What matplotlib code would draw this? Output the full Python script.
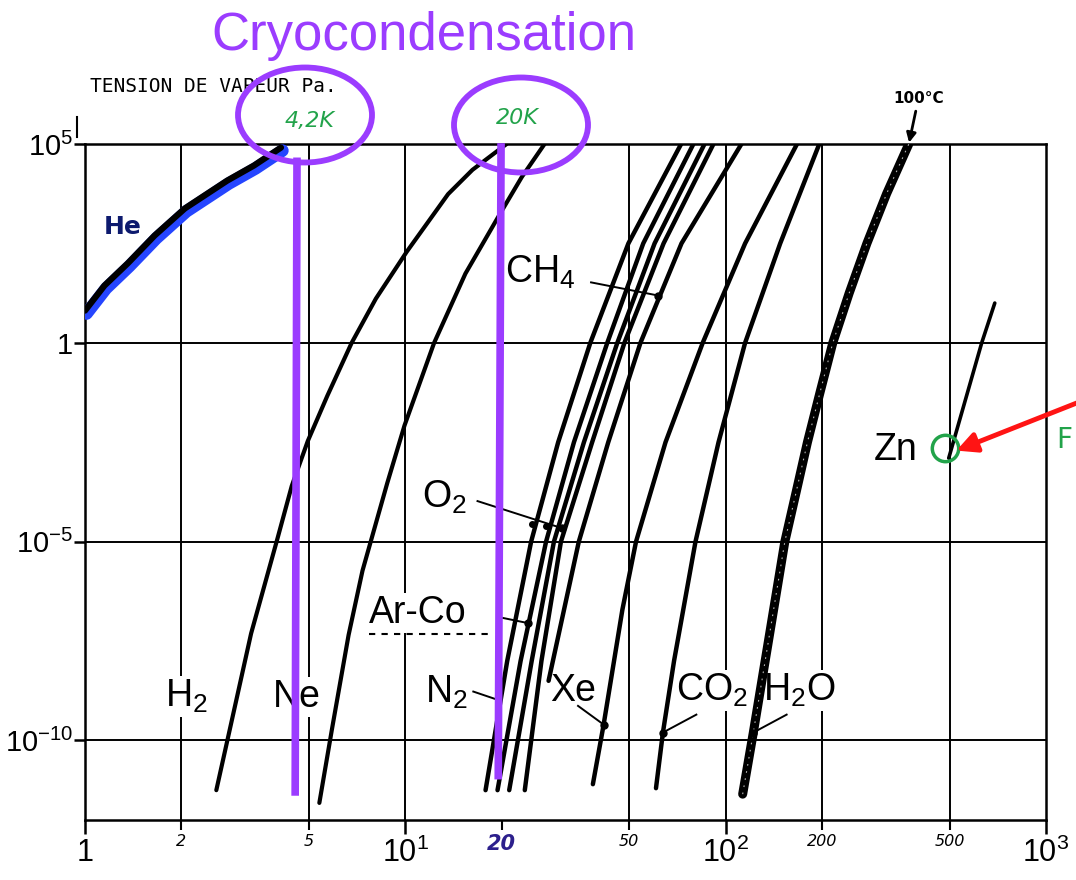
import numpy as np
import matplotlib
matplotlib.use('Agg')
import matplotlib.pyplot as plt
from matplotlib import transforms
from matplotlib.patches import Ellipse
from matplotlib.lines import Line2D

# vapour pressure curves: temperature in K, log10(P / Pa)
he_T = [1.0, 1.15, 1.36, 1.65, 2.05, 2.78, 3.37, 4.09]
he_logP = [0.81, 1.44, 2.0, 2.7, 3.38, 4.08, 4.46, 4.91]

h2_T = [2.57, 3.30, 3.98, 4.42, 4.96, 5.71, 6.8, 8.09, 10.1, 13.6, 16.2, 20.7]
h2_logP = [-11.25, -7.31, -4.95, -3.6, -2.47, -1.33, 0.0, 1.11, 2.29, 3.74, 4.35, 5.0]

ne_T = [5.39, 5.9, 6.65, 7.35, 8.78, 9.94, 12.3, 15.4, 19.7, 23.1, 27.2]
ne_logP = [-11.57, -9.72, -7.35, -5.73, -3.53, -2.08, 0.0, 1.74, 3.23, 4.17, 5.0]

# the tight bundle N2 / CO / Ar / O2 shares the same pressure readings
bundle_logP = [-11.25, -8.0, -5.0, -2.5, 0.0, 2.5, 5.0]
n2_T = [17.8, 20.8, 24.7, 30.0, 37.8, 49.7, 72.6]
co_T = [19.4, 22.9, 27.5, 33.6, 42.7, 55.3, 79.3]
ar_T = [21.1, 24.8, 29.1, 36.1, 45.9, 60.0, 85.9]
o2_T = [23.6, 26.6, 30.6, 38.3, 48.3, 64.0, 91.6]

ch4_T = [28.0, 34.8, 43.0, 54.2, 72.8, 112.0]
ch4_logP = [-8.5, -5.0, -2.5, 0.0, 2.5, 5.0]

xe_T = [38.5, 41.6, 47.6, 52.5, 64.9, 84.8, 115.0, 167.0]
xe_logP = [-11.1, -9.6, -6.71, -5.0, -2.5, 0.0, 2.5, 5.0]

co2_T = [60.6, 63.7, 69.0, 80.5, 95.0, 115.0, 148.0, 196.0]
co2_logP = [-11.2, -9.8, -8.0, -5.0, -2.5, 0.0, 2.5, 5.0]

h2o_T = [113.0, 122.0, 136.0, 153.0, 166.0, 180.0, 197.0, 216.0, 243.0, 276.0, 318.0, 373.0]
h2o_logP = [-11.35, -9.8, -7.5, -5.0, -3.75, -2.5, -1.25, 0.0, 1.25, 2.5, 3.75, 5.0]

zn_T = [497.0, 630.0, 692.0]
zn_logP = [-2.9, 0.0, 1.0]

# axis ticks
x_major = [1, 10, 100, 1000]
x_major_lbl = ['1', '10$^1$', '10$^2$', '10$^3$']
x_minor = [2, 5, 20, 50, 200, 500]
x_minor_lbl = ['2', '5', '20', '50', '200', '500']
y_major = [1e-10, 1e-5, 1, 1e5]
y_major_lbl = ['10$^{-10}$', '10$^{-5}$', '1', '10$^5$']
grid_T = [2, 5, 10, 50, 100, 200, 500]
grid_P = [1e-10, 1e-5, 1]

# curve names: text, T, log10 P of baseline-left corner
names = ['H$_2$', 'Ne', 'N$_2$', 'Xe', 'CO$_2$', 'H$_2$O', 'Ar-Co', 'O$_2$', 'CH$_4$', 'Zn']
name_T = [1.78, 3.85, 11.5, 28.3, 70.0, 131.0, 7.7, 11.3, 20.4, 290.0]
name_logP = [-9.15, -9.15, -9.05, -9.0, -9.0, -9.0, -7.05, -4.15, 1.5, -2.95]

# leader lines from the names to their curve (start T, logP, end T, logP, dot)
leaders = [
    (38.0, 1.52, 61.5, 1.19, True),      # CH4
    (16.8, -3.98, 30.8, -4.66, True),    # O2
    (20.2, -6.92, 24.2, -7.05, True),    # Ar-Co
    (16.3, -8.77, 19.3, -8.97, False),   # N2
    (34.6, -9.13, 41.6, -9.6, True),     # Xe
    (81.0, -9.35, 63.7, -9.8, True),     # CO2
    (155.0, -9.35, 122.0, -9.8, True),   # H2O
]
o2_extra_dots_T = [24.8, 27.5]
o2_extra_dots_logP = [-4.55, -4.6]

PURPLE = '#9b3cff'
GREEN = '#22a34a'

plt.rcParams['font.family'] = ['Liberation Sans', 'DejaVu Sans']
plt.rcParams['mathtext.fontset'] = 'custom'
plt.rcParams['mathtext.rm'] = 'Liberation Sans'
plt.rcParams['mathtext.it'] = 'Liberation Sans:italic'
plt.rcParams['mathtext.bf'] = 'Liberation Sans:bold'
plt.rcParams['mathtext.default'] = 'regular'


def P(lp):
    return 10.0 ** np.asarray(lp)


fig = plt.figure(figsize=(10.76, 8.8), dpi=100)
ax = fig.add_axes([85 / 1076, 1 - 820 / 880, 961 / 1076, 676 / 880])
ax.set_xscale('log')
ax.set_yscale('log')
ax.set_xlim(1, 1000)
ax.set_ylim(1e-12, 1e5)

for t in grid_T:
    ax.axvline(t, color='black', lw=1.4, zorder=0.5)
for p in grid_P:
    ax.axhline(p, color='black', lw=1.4, zorder=0.5)

for s in ax.spines.values():
    s.set_linewidth(1.8)

ax.set_xticks(x_major, x_major_lbl)
ax.set_xticks(x_minor, x_minor_lbl, minor=True)
ax.set_yticks(y_major, y_major_lbl)
ax.set_yticks([], minor=True)
ax.tick_params(axis='x', which='major', length=10, width=1.8, labelsize=22, pad=3)
ax.tick_params(axis='x', which='minor', length=7, width=1.5, labelsize=11.5, pad=3)
ax.tick_params(axis='y', which='major', length=8, width=1.8, labelsize=21, pad=0.5)
for lbl in ax.get_xticklabels(minor=True):
    lbl.set_family('DejaVu Sans')
    lbl.set_style('italic')
lbl20 = ax.get_xticklabels(minor=True)[2]
lbl20.set(color='#2c1f8c', fontweight='bold', fontsize=15)

# He, highlighted in blue
shifted = transforms.offset_copy(ax.transData, fig=fig, x=1.5, y=-3, units='dots')
ax.plot(he_T, P(he_logP), color='#2545ff', lw=9, solid_capstyle='round', solid_joinstyle='round',
        transform=shifted, zorder=3)
ax.plot(he_T, P(he_logP), color='black', lw=4.5, solid_capstyle='round', solid_joinstyle='round', zorder=4)
ax.text(1.31, P(2.92), 'He', color='#0d1a6e', fontsize=18, fontweight='bold', family='DejaVu Sans',
        ha='center', va='center', zorder=4)

curves = [(h2_T, h2_logP, 3.0), (ne_T, ne_logP, 3.0),
          (n2_T, bundle_logP, 3.2), (co_T, bundle_logP, 3.2), (ar_T, bundle_logP, 3.2), (o2_T, bundle_logP, 3.2),
          (ch4_T, ch4_logP, 3.2), (xe_T, xe_logP, 3.2), (co2_T, co2_logP, 3.2), (zn_T, zn_logP, 2.6)]
for t, lp, w in curves:
    ax.plot(t, P(lp), color='black', lw=w, solid_capstyle='round', solid_joinstyle='round', zorder=4)

ax.plot(h2o_T, P(h2o_logP), color='black', lw=6.5, solid_capstyle='round', solid_joinstyle='round', zorder=4)
ax.plot(h2o_T, P(h2o_logP), color='white', lw=0.8, ls=(0, (1.5, 5)), alpha=0.7, zorder=4.5)

for s, t, lp in zip(names, name_T, name_logP):
    ax.text(t, P(lp), s, fontsize=27, ha='left', va='baseline', zorder=2,
            bbox=dict(boxstyle='square,pad=0.05', fc='white', ec='none'))

for t0, lp0, t1, lp1, dot in leaders:
    ax.plot([t0, t1], [P(lp0), P(lp1)], color='black', lw=1.4, zorder=4.6)
    if dot:
        ax.plot([t1], [P(lp1)], 'o', color='black', ms=5, zorder=4.7)
ax.plot(o2_extra_dots_T, P(o2_extra_dots_logP), 'o', color='black', ms=4, zorder=4.7)

# dashed underline of Ar-Co
ax.plot([7.7, 18.5], [P(-7.33)] * 2, color='black', lw=1.5, ls=(0, (3, 3)), zorder=2.5)

# 100 degC marker at the top of the water curve
ax.annotate('100°C', xy=(h2o_T[-1], P(h2o_logP[-1])), xytext=(7, 33), textcoords='offset points',
            ha='center', va='center', fontsize=11, fontweight='bold', family='DejaVu Sans',
            arrowprops=dict(arrowstyle='-|>', color='black', lw=2, mutation_scale=14, shrinkA=2, shrinkB=1),
            annotation_clip=False)

# Zn annotation in green / red
ax.plot([484], [P(-2.64)], marker='o', ms=19, mfc='none', mec=GREEN, mew=2.5, zorder=5, clip_on=False)
ax.annotate('', xy=(525, P(-2.71)), xytext=(1.003, 1 - 402 / 880), textcoords='figure fraction',
            arrowprops=dict(arrowstyle='-|>', color='#ff1414', lw=3.5, mutation_scale=30, shrinkA=0, shrinkB=0),
            annotation_clip=False, zorder=6)
fig.text(1056 / 1076, 1 - 440 / 880, 'F', color=GREEN, fontsize=20, family='DejaVu Sans', ha='left', va='center')

# cryo temperatures: 4.2 K and 20 K
ax.plot([4.59, 4.53], [P(4.66), P(-11.39)], color=PURPLE, lw=5.5, solid_capstyle='butt', zorder=7, clip_on=False)
ax.plot([19.9, 19.5], [P(5.02), P(-10.98)], color=PURPLE, lw=5.5, solid_capstyle='butt', zorder=7, clip_on=False)
for cx, cy in [(305, 115), (521, 125)]:
    fig.add_artist(Ellipse((cx / 1076, 1 - cy / 880), 134 / 1076, 95 / 880, transform=fig.transFigure,
                           fill=False, ec=PURPLE, lw=4.2, zorder=7))
fig.text(310 / 1076, 1 - 121 / 880, '4,2K', color=GREEN, fontsize=16, style='italic', family='DejaVu Sans',
         ha='center', va='center')
fig.text(517 / 1076, 1 - 118 / 880, '20K', color=GREEN, fontsize=16, style='italic', family='DejaVu Sans',
         ha='center', va='center')

fig.text(90 / 1076, 1 - 86 / 880, 'TENSION DE VAPEUR Pa.', fontsize=14, family='DejaVu Sans Mono',
         ha='left', va='center')
fig.text(424 / 1076, 1 - 36 / 880, 'Cryocondensation', fontsize=38, color=PURPLE, family='Liberation Sans',
         ha='center', va='center')
fig.add_artist(Line2D([77 / 1076] * 2, [1 - 117 / 880, 1 - 137 / 880], transform=fig.transFigure,
                      color='black', lw=1.5))

fig.savefig('out.png', dpi=100, facecolor='white')
